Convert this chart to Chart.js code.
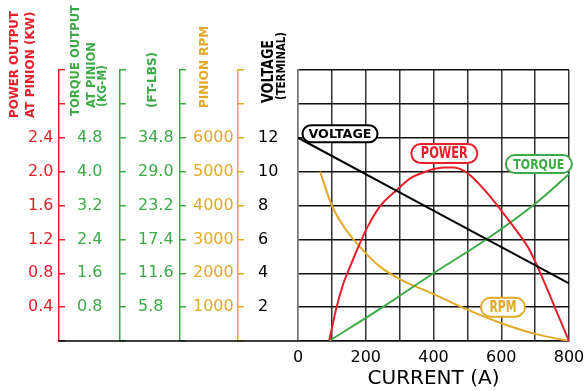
<!DOCTYPE html>
<html>
<head>
<meta charset="utf-8">
<script src="https://cdn.jsdelivr.net/npm/chart.js@4.4.0/dist/chart.umd.min.js"></script>
<style>
    html, body { margin: 0; padding: 0; background: #fff; }
    #wrap { width: 584px; height: 391px; }
</style>
</head>
<body>
<div id="wrap"><canvas id="motorChart"></canvas></div>
<script>
const RED = '#e6202a';
const GREEN = '#3caa46';
const ORANGE = '#e1aa28';

// curves, x = current (A)
const voltageCurrent = [0, 800];
const voltageValues = [12, 3.4];

const powerCurrent = [92, 114, 134, 155, 178, 203, 242, 291, 331, 370, 400, 430, 460, 490, 510, 560, 600, 640, 680, 720, 760, 800];
const powerKw = [0, 0.40, 0.68, 0.89, 1.11, 1.33, 1.59, 1.78, 1.92, 1.99, 2.03, 2.05, 2.05, 2.01, 1.95, 1.74, 1.54, 1.33, 1.10, 0.76, 0.38, 0];

const torqueCurrent = [92, 250, 400, 560, 700, 800];
const torqueKgm = [0, 0.8, 1.6, 2.42, 3.24, 3.94];

const rpmCurrent = [65, 100, 135, 180, 240, 300, 400, 500, 600, 700, 800];
const rpmValues = [5000, 4000, 3380, 2810, 2210, 1830, 1385, 925, 525, 210, 0];

// tick labels
const currentTicks = [0, 200, 400, 600, 800];
const powerTicks = [0.4, 0.8, 1.2, 1.6, 2.0, 2.4];
const kgmTicks = [0.8, 1.6, 2.4, 3.2, 4.0, 4.8];
const ftlbsTicks = [5.8, 11.6, 17.4, 23.2, 29.0, 34.8];
const rpmTicks = [1000, 2000, 3000, 4000, 5000, 6000];
const voltTicks = [2, 4, 6, 8, 10, 12];

const toPoints = (xs, ys) => xs.map((x, i) => ({ x: x, y: ys[i] }));

Chart.defaults.font.family = "'DejaVu Sans', sans-serif";
const tickFont = { size: 16 };

function sideAxis(max, step, weight, width, color, labels, digits) {
    return {
        type: 'linear',
        position: 'left',
        min: 0,
        max: max,
        weight: weight,
        afterFit: (s) => { s.width = width; },
        border: { color: color, width: 1.5 },
        grid: { drawOnChartArea: false, drawTicks: true, tickLength: -6, color: color, lineWidth: 1.5 },
        ticks: {
            stepSize: step,
            autoSkip: false,
            crossAlign: 'far',
            color: color,
            font: tickFont,
            callback: (v) => labels.some(l => Math.abs(l - v) < 1e-6) ? v.toFixed(digits) : ''
        }
    };
}

// how far the left-aligned tick labels sit inside each axis box
const labelInsets = { yPower: 28, yKgm: 18, yFtlbs: 18, yRpm: 13, yVolt: 20 };

// vertical axis titles: offset from the axis line, bottom end, length
const axisTitles = [
    { axis: 'yPower', color: RED, lines: [
        { text: 'POWER OUTPUT', dx: -44, bottom: 118, size: 12, len: 107 },
        { text: 'AT PINION (KW)', dx: -28, bottom: 118, size: 12, len: 107 }] },
    { axis: 'yKgm', color: GREEN, lines: [
        { text: 'TORQUE OUTPUT', dx: -44, bottom: 116, size: 12, len: 111 },
        { text: 'AT PINION', dx: -28, bottom: 108, size: 12, len: 66 },
        { text: '(KG-M)', dx: -17, bottom: 107, size: 12, len: 42 }] },
    { axis: 'yFtlbs', color: GREEN, lines: [
        { text: '(FT-LBS)', dx: -27.5, bottom: 108, size: 12, len: 58 }] },
    { axis: 'yRpm', color: ORANGE, lines: [
        { text: 'PINION RPM', dx: -33.5, bottom: 108, size: 12, len: 83 }] },
    { axis: 'yVolt', color: '#000', lines: [
        { text: 'VOLTAGE', dx: -29, bottom: 103, size: 16, len: 63 },
        { text: '(TERMINAL)', dx: -16.5, bottom: 100, size: 13, len: 68 }] }
];

// curve name tags, placed in current / voltage units
const curveTags = [
    { text: 'VOLTAGE', color: '#000', current: 124, volts: 12.24, w: 75, h: 17, size: 13, len: 63 },
    { text: 'POWER', color: RED, current: 432, volts: 11.07, w: 66, h: 19, size: 15, len: 47 },
    { text: 'TORQUE', color: GREEN, current: 711, volts: 10.45, w: 66, h: 18, size: 14, len: 51 },
    { text: 'RPM', color: ORANGE, current: 605, volts: 2.0, w: 44, h: 19, size: 15, len: 27 }
];

const decor = {
    id: 'decor',
    afterLayout(chart) {
        Object.keys(labelInsets).forEach(id => { chart.scales[id].left += labelInsets[id]; });
    },
    afterDatasetsDraw(chart) {
        const ctx = chart.ctx;
        const xs = chart.scales.x, ys = chart.scales.yVolt;
        ctx.save();
        curveTags.forEach(t => {
            const cx = xs.getPixelForValue(t.current);
            const cy = ys.getPixelForValue(t.volts);
            ctx.beginPath();
            ctx.roundRect(cx - t.w / 2, cy - t.h / 2, t.w, t.h, t.h / 2);
            ctx.fillStyle = '#fff';
            ctx.fill();
            ctx.lineWidth = 2;
            ctx.strokeStyle = t.color;
            ctx.stroke();
            ctx.fillStyle = t.color;
            ctx.font = 'bold ' + t.size + "px 'DejaVu Sans'";
            ctx.textAlign = 'center';
            ctx.textBaseline = 'middle';
            ctx.fillText(t.text, cx, cy + 1, t.len);
        });
        ctx.restore();
    },
    afterDraw(chart) {
        const ctx = chart.ctx;
        const area = chart.chartArea;
        ctx.save();
        // base line under the side axes
        ctx.strokeStyle = '#000';
        ctx.lineWidth = 1.5;
        ctx.beginPath();
        ctx.moveTo(chart.scales.yPower.right - 0.75, area.bottom);
        ctx.lineTo(area.left, area.bottom);
        ctx.stroke();

        axisTitles.forEach(g => {
            const edge = chart.scales[g.axis].right;
            ctx.fillStyle = g.color;
            g.lines.forEach(l => {
                ctx.save();
                ctx.translate(edge + l.dx, l.bottom);
                ctx.rotate(-Math.PI / 2);
                ctx.font = 'bold ' + l.size + "px 'DejaVu Sans'";
                ctx.textAlign = 'left';
                ctx.textBaseline = 'middle';
                ctx.fillText(l.text, 0, 0, l.len);
                ctx.restore();
            });
        });
        ctx.restore();
    }
};

const lineStyle = { borderWidth: 2, pointRadius: 0, fill: false, cubicInterpolationMode: 'monotone' };

new Chart(document.getElementById('motorChart'), {
    type: 'line',
    data: {
        datasets: [
            { label: 'VOLTAGE', data: toPoints(voltageCurrent, voltageValues), borderColor: '#000', yAxisID: 'yVolt', ...lineStyle },
            { label: 'POWER', data: toPoints(powerCurrent, powerKw), borderColor: RED, yAxisID: 'yPower', ...lineStyle },
            { label: 'TORQUE', data: toPoints(torqueCurrent, torqueKgm), borderColor: GREEN, yAxisID: 'yKgm', ...lineStyle },
            { label: 'RPM', data: toPoints(rpmCurrent, rpmValues), borderColor: ORANGE, yAxisID: 'yRpm', ...lineStyle },
            { label: 'FT-LBS', data: [], yAxisID: 'yFtlbs' }
        ]
    },
    options: {
        responsive: true,
        maintainAspectRatio: false,
        animation: false,
        layout: { padding: { top: 70, right: 15, left: 0, bottom: 0 } },
        plugins: { legend: { display: false }, tooltip: { enabled: false } },
        scales: {
            x: {
                type: 'linear',
                min: 0,
                max: 800,
                afterFit: (s) => {
                    s.height = 50;
                    s.paddingLeft = 0;
                    s.paddingRight = 0;
                },
                border: { color: '#111', width: 1.5 },
                grid: {
                    drawTicks: false,
                    lineWidth: 1.5,
                    color: (c) => c.tick && c.tick.value === 0 ? '#777' : '#333'
                },
                ticks: {
                    stepSize: 100,
                    autoSkip: false,
                    maxRotation: 0,
                    padding: 7,
                    color: '#000',
                    font: tickFont,
                    callback: (v) => currentTicks.includes(v) ? String(v) : ''
                },
                title: { display: true, text: 'CURRENT (A)', color: '#000', font: { size: 20 }, padding: 0 }
            },
            yPower: sideAxis(3.2, 0.4, 4, 59, RED, powerTicks, 1),
            yKgm: sideAxis(6.4, 0.8, 3, 61, GREEN, kgmTicks, 1),
            yFtlbs: sideAxis(46.4, 5.8, 2, 60, GREEN, ftlbsTicks, 1),
            yRpm: sideAxis(8000, 1000, 1, 58, ORANGE, rpmTicks, 0),
            yVolt: {
                type: 'linear',
                position: 'left',
                min: 0,
                max: 16,
                weight: 0,
                afterFit: (s) => { s.width = 60; },
                border: { color: '#777', width: 1.5 },
                grid: { drawOnChartArea: true, drawTicks: false, color: '#111', lineWidth: 1.5 },
                ticks: {
                    stepSize: 2,
                    autoSkip: false,
                    crossAlign: 'far',
                    color: '#000',
                    font: tickFont,
                    callback: (v) => voltTicks.includes(v) ? String(v) : ''
                }
            }
        }
    },
    plugins: [decor]
});
</script>
</body>
</html>
